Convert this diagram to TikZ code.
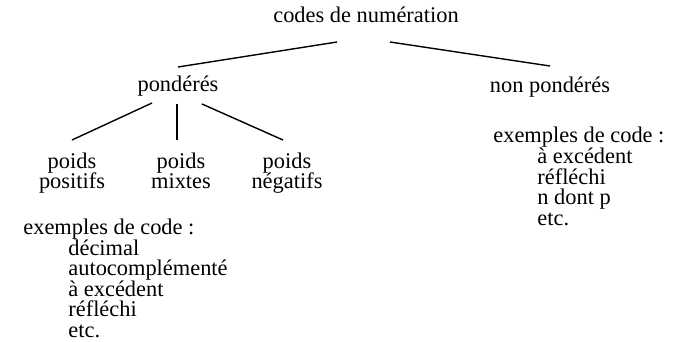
\documentclass[tikz,border=0pt]{standalone}
\usepackage{fontspec}
\setmainfont{Liberation Serif}
\newcommand\cdfont{\fontsize{11.2}{10.25}\selectfont\lineskiplimit=-100pt\relax}
\begin{document}
\begin{tikzpicture}[x=0.5pt,y=-0.5pt,
  lbl/.style={inner sep=0pt,anchor=base,font=\cdfont},
  branch/.style={line width=0.7pt}]
\useasboundingbox (0,0) rectangle (675,342);
%\draw[step=25,gray,very thin] (0,0) grid (675,342);
\node[lbl] (root)  at (366,23) {codes de numération};
\node[lbl] (pond)  at (178,92) {pondérés};
\node[lbl] (npond) at (550,93) {non pondérés};
% multi-line nodes: base = last line
\node[lbl,align=center] (pos) at (72,189)  {poids\\positifs};
\node[lbl,align=center] (mix) at (181,189) {poids\\mixtes};
\node[lbl,align=center] (neg) at (287,189) {poids\\négatifs};
\node[lbl,anchor=base west,align=left] (exa) at (23,337)
  {exemples de code :\\
   \hspace*{22.5pt}décimal\\
   \hspace*{22.5pt}autocomplémenté\\
   \hspace*{22.5pt}à excédent\\
   \hspace*{22.5pt}réfléchi\\
   \hspace*{22.5pt}etc.};
\node[lbl,anchor=base west,align=left] (exb) at (493,225)
  {exemples de code :\\
   \hspace*{22pt}à excédent\\
   \hspace*{22pt}réfléchi\\
   \hspace*{22pt}n dont p\\
   \hspace*{22pt}etc.};
\draw[branch] ([xshift=-14.5pt,yshift=-9.5pt]root.base) -- ([yshift=12.5pt]pond.base);
\draw[branch] ([xshift=12pt,yshift=-9.5pt]root.base) -- ([yshift=13.5pt]npond.base);
\draw[branch] ([xshift=-13pt,yshift=-5.5pt]pond.base) -- ([yshift=24.5pt]pos.base);
\draw[branch] ([xshift=-0.5pt,yshift=-6pt]pond.base) -- ([xshift=-2pt,yshift=24.5pt]mix.base);
\draw[branch] ([xshift=12pt,yshift=-6pt]pond.base) -- ([xshift=-2pt,yshift=24.5pt]neg.base);
\end{tikzpicture}
\end{document}
